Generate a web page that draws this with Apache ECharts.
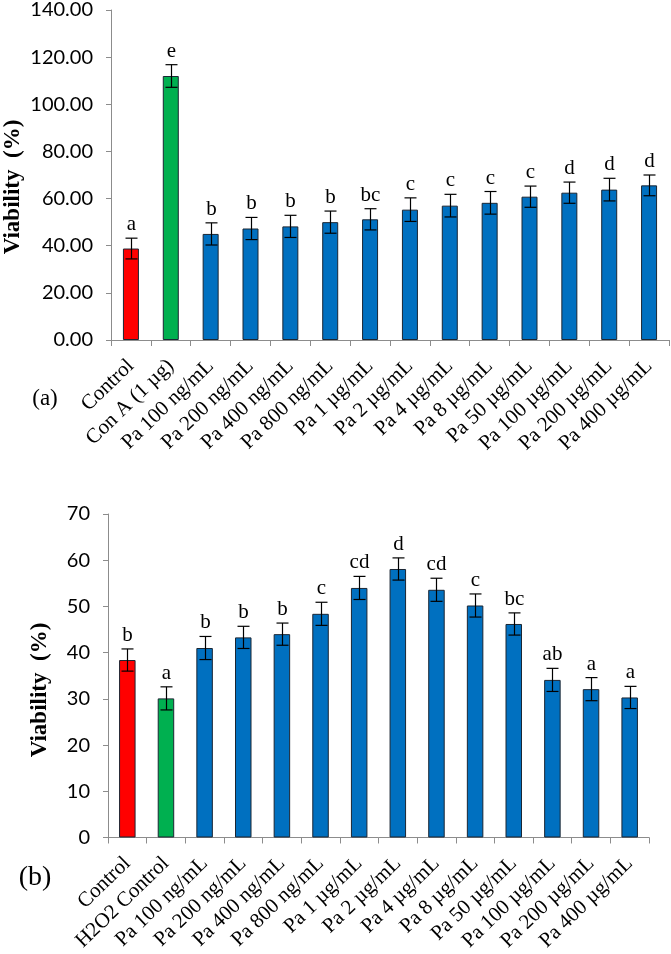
<!DOCTYPE html>
<html>
<head>
<meta charset="utf-8">
<script src="https://cdn.jsdelivr.net/npm/echarts@6/dist/echarts.min.js"></script>
<style>
html,body{margin:0;padding:0;background:#fff;}
#chart{width:671px;height:954px;}
</style>
</head>
<body>
<div id="chart"></div>
<script>
// ---- Data (panel a) ----
const catsA = ['Control','Con A (1 µg)','Pa 100 ng/mL','Pa 200 ng/mL','Pa 400 ng/mL','Pa 800 ng/mL','Pa 1 µg/mL','Pa 2 µg/mL','Pa 4 µg/mL','Pa 8 µg/mL','Pa 50 µg/mL','Pa 100 µg/mL','Pa 200 µg/mL','Pa 400 µg/mL'];
const valsA = [38.8, 112.0, 45.0, 47.3, 48.2, 50.0, 51.2, 55.3, 57.0, 58.2, 60.8, 62.5, 63.8, 65.6];
const errA  = [4.4, 4.8, 4.7, 4.7, 4.7, 4.7, 4.5, 5.0, 4.8, 4.8, 4.5, 4.5, 4.8, 4.4];
const lettersA = ['a','e','b','b','b','b','bc','c','c','c','c','d','d','d'];
const ticksA = [0, 140, 20];

// ---- Data (panel b) ----
const catsB = ['Control','H2O2 Control','Pa 100 ng/mL','Pa 200 ng/mL','Pa 400 ng/mL','Pa 800 ng/mL','Pa 1 µg/mL','Pa 2 µg/mL','Pa 4 µg/mL','Pa 8 µg/mL','Pa 50 µg/mL','Pa 100 µg/mL','Pa 200 µg/mL','Pa 400 µg/mL'];
const valsB = [38.4, 30.1, 41.0, 43.3, 44.0, 48.4, 54.0, 58.1, 53.6, 50.2, 46.2, 34.1, 32.1, 30.3];
const errB  = [2.4, 2.5, 2.5, 2.4, 2.4, 2.5, 2.5, 2.4, 2.5, 2.5, 2.4, 2.5, 2.5, 2.4];
const lettersB = ['b','a','b','b','b','c','cd','d','cd','c','bc','ab','a','a'];
const ticksB = [0, 70, 10];

const RED = '#FF0000', GREEN = '#00B050', BLUE = '#0070C0';
function barColor(i){ return i === 0 ? RED : (i === 1 ? GREEN : BLUE); }

const axisGrey = '#8c8c8c';

function xAxisCfg(gridIndex, cats){
  return {
    type: 'category', gridIndex: gridIndex, data: cats,
    boundaryGap: true,
    axisLine: {lineStyle: {color: axisGrey, width: 1}},
    axisTick: {show: true, length: 6, lineStyle: {color: axisGrey}},
    axisLabel: {
      interval: 0, rotate: 44, margin: 23,
      fontFamily: 'Liberation Serif', fontSize: 21, color: '#000'
    }
  };
}
function yAxisCfg(gridIndex, t, dec){
  return {
    type: 'value', gridIndex: gridIndex, min: t[0], max: t[1], interval: t[2],
    axisLine: {show: true, lineStyle: {color: axisGrey, width: 1}},
    axisTick: {show: true, length: 5, lineStyle: {color: axisGrey}},
    splitLine: {show: false},
    axisLabel: {
      margin: 18, fontFamily: 'Lato', fontSize: 20, color: '#000',
      formatter: function(v){ return v.toFixed(dec); }
    }
  };
}
function barSeries(idx, vals){
  return {
    type: 'bar', xAxisIndex: idx, yAxisIndex: idx,
    barWidth: idx === 0 ? 16 : 16.5,
    data: vals.map(function(v, i){
      return {value: v, itemStyle: {color: barColor(i), borderColor: '#1b2633', borderWidth: 1}};
    }),
    z: 2
  };
}
function errSeries(idx, vals, errs, letters){
  return {
    type: 'custom', xAxisIndex: idx, yAxisIndex: idx, clip: false, z: 5,
    data: vals.map(function(v, i){ return [i, v, errs[i]]; }),
    renderItem: function(params, api){
      const x = api.value(0), v = api.value(1), e = api.value(2);
      const top = api.coord([x, v + e]);
      const bot = api.coord([x, v - e]);
      const cx = Math.round(top[0]) + 0.5;
      const hw = 6;
      const ls = {stroke: '#000', lineWidth: 1.2};
      return {
        type: 'group',
        children: [
          {type: 'line', shape: {x1: cx, y1: top[1], x2: cx, y2: bot[1]}, style: ls},
          {type: 'line', shape: {x1: cx - hw, y1: top[1], x2: cx + hw, y2: top[1]}, style: ls},
          {type: 'line', shape: {x1: cx - hw, y1: bot[1], x2: cx + hw, y2: bot[1]}, style: ls},
          {type: 'text', style: {
            text: letters[params.dataIndex], x: cx, y: top[1] - 3,
            align: 'center', verticalAlign: 'bottom',
            font: '21px "Liberation Serif"', fill: '#000'
          }}
        ]
      };
    }
  };
}

const chart = echarts.init(document.getElementById('chart'), null, {renderer: 'canvas'});
chart.setOption({
  animation: false,
  backgroundColor: '#fff',
  grid: [
    {left: 111, top: 7, width: 558, height: 333},
    {left: 108, top: 514, width: 541, height: 324}
  ],
  xAxis: [xAxisCfg(0, catsA), xAxisCfg(1, catsB)],
  yAxis: [yAxisCfg(0, ticksA, 2), yAxisCfg(1, ticksB, 0)],
  series: [
    barSeries(0, valsA), errSeries(0, valsA, errA, lettersA),
    barSeries(1, valsB), errSeries(1, valsB, errB, lettersB)
  ],
  graphic: [
    {type: 'text', x: 13, y: 187, rotation: Math.PI / 2,
     style: {text: 'Viability  (%)', font: 'bold 23px "Liberation Serif"', fill: '#000', align: 'center', verticalAlign: 'middle'}},
    {type: 'text', x: 45, y: 399,
     style: {text: '(a)', font: '23px "Liberation Serif"', fill: '#000', align: 'center', verticalAlign: 'middle'}},
    {type: 'text', x: 40, y: 690, rotation: Math.PI / 2,
     style: {text: 'Viability  (%)', font: 'bold 23px "Liberation Serif"', fill: '#000', align: 'center', verticalAlign: 'middle'}},
    {type: 'text', x: 35, y: 878,
     style: {text: '(b)', font: '28px "Liberation Serif"', fill: '#000', align: 'center', verticalAlign: 'middle'}}
  ]
});
</script>
</body>
</html>
